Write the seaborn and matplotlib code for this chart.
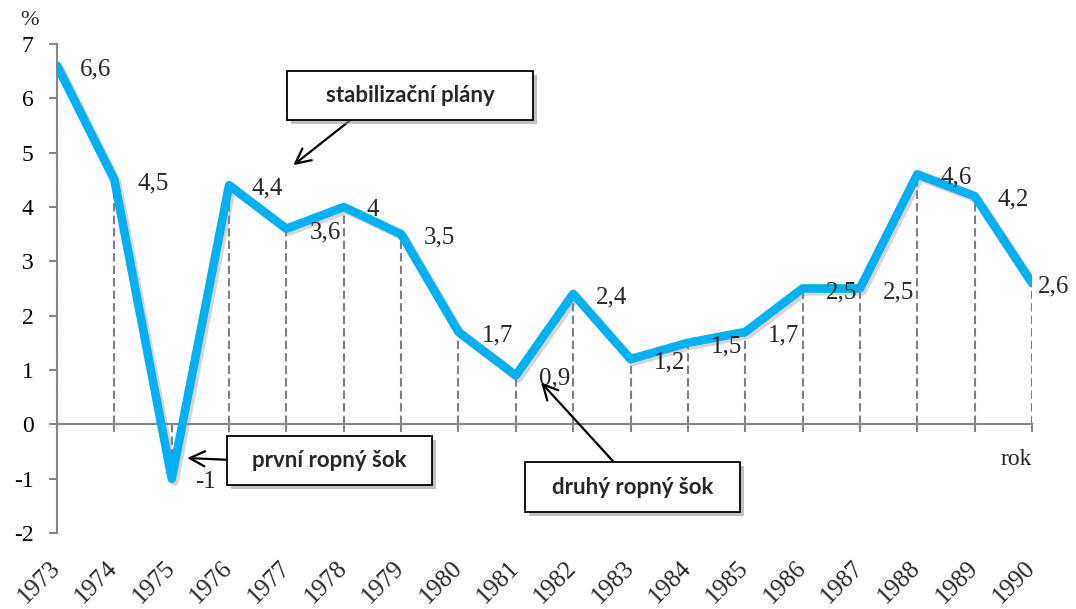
import matplotlib
matplotlib.use("Agg")
import numpy as np
import pandas as pd
import seaborn as sns
import matplotlib.pyplot as plt
import matplotlib.patheffects as pe
from matplotlib.patches import Rectangle

# data
years = ["1973", "1974", "1975", "1976", "1977", "1978", "1979", "1980", "1981",
         "1982", "1983", "1984", "1985", "1986", "1987", "1988", "1989", "1990"]
growth = [6.6, 4.5, -1, 4.4, 3.6, 4, 3.5, 1.7, 0.9,
          2.4, 1.2, 1.5, 1.7, 2.5, 2.5, 4.6, 4.2, 2.6]
y_ticks = [-2, -1, 0, 1, 2, 3, 4, 5, 6, 7]

df = pd.DataFrame({"pos": np.arange(len(years)), "rok": years, "value": growth})

sns.set_theme(style="white")
plt.rcParams["font.family"] = ["Liberation Serif", "DejaVu Serif"]

fig = plt.figure(figsize=(10.76, 6.09), dpi=100)
ax = fig.add_axes([0.053, 0.1248, 0.9061, 0.803])

gray = "#868686"

# drop lines
ax.vlines(df["pos"], 0, df["value"], colors="#7f7f7f",
          linestyles=(0, (4, 2)), linewidth=1.5, zorder=1)

sns.lineplot(data=df, x="pos", y="value", ax=ax, color="#00B0F0",
             linewidth=6.2, solid_capstyle="round", zorder=3,
             path_effects=[pe.SimpleLineShadow(offset=(2, -2), shadow_color="#888888", alpha=0.35),
                           pe.Normal()])

ax.set_xlim(0, len(years) - 1)
ax.set_ylim(-2, 7)
ax.set_yticks(y_ticks)
ax.set_yticklabels([str(v) for v in y_ticks], fontsize=17)
ax.set_xticks(df["pos"])
ax.set_xticklabels([""] * len(years))
ax.set_xlabel("")
ax.set_ylabel("")

for s in ["top", "right"]:
    ax.spines[s].set_visible(False)
ax.spines["left"].set_color(gray)
ax.spines["left"].set_linewidth(1.5)
ax.spines["bottom"].set_position(("data", 0))
ax.spines["bottom"].set_color(gray)
ax.spines["bottom"].set_linewidth(1.5)
ax.tick_params(axis="both", direction="out", length=6, width=1.5, color=gray,
               left=True, bottom=True)
ax.tick_params(axis="y", pad=11, labelcolor="black")

# year labels under the plot
for p, lab in zip(df["pos"], df["rok"]):
    ax.text(p, -0.065, lab, transform=ax.get_xaxis_transform(), rotation=45,
            rotation_mode="anchor", ha="right", va="center", fontsize=18)

# data labels (last one is pulled in to stay inside the chart)
last = len(years) - 1
for p, v in zip(df["pos"], df["value"]):
    lab = f"{v:g}".replace(".", ",")
    dx = 4.5 if p == last else 16.5
    ax.annotate(lab, (p, v), xytext=(dx, -2.5), textcoords="offset points",
                ha="left", va="center", fontsize=18, zorder=5)

ax.text(len(years) - 1, -0.64, "rok", ha="right", va="center", fontsize=17)
ax.text(-0.028, 1.049, "%", transform=ax.transAxes, ha="center", va="center", fontsize=16)

# annotation boxes
boxes = [
    ("stabilizační plány", (0.2667, 0.803, 0.2286, 0.0805), (0.327, 0.8046), (4.12, 4.77)),
    ("první ropný šok", (0.211, 0.2036, 0.1905, 0.0804), (0.211, 0.245), (2.27, -0.62)),
    ("druhý ropný šok", (0.488, 0.159, 0.2, 0.082), (0.5706, 0.241), (8.44, 0.77)),
]
for txt, (bx, by, bw, bh), start, tip in boxes:
    rect = Rectangle((bx, by), bw, bh, transform=fig.transFigure, facecolor="white",
                     edgecolor="black", linewidth=1.3, zorder=6,
                     path_effects=[pe.SimplePatchShadow(offset=(3, -3), shadow_rgbFace="#999999", alpha=0.6),
                                   pe.Normal()])
    fig.add_artist(rect)
    fig.text(bx + bw / 2, by + bh / 2, txt, ha="center", va="center", fontsize=16,
             fontweight="bold", family=["Lato", "DejaVu Sans"], zorder=7)
    ax.annotate("", xy=tip, xycoords="data", xytext=start, textcoords="figure fraction",
                arrowprops=dict(arrowstyle="->,head_length=0.9,head_width=0.45",
                                color="black", lw=1.6, shrinkA=0, shrinkB=0), zorder=7)

fig.savefig("out.png", dpi=100)
